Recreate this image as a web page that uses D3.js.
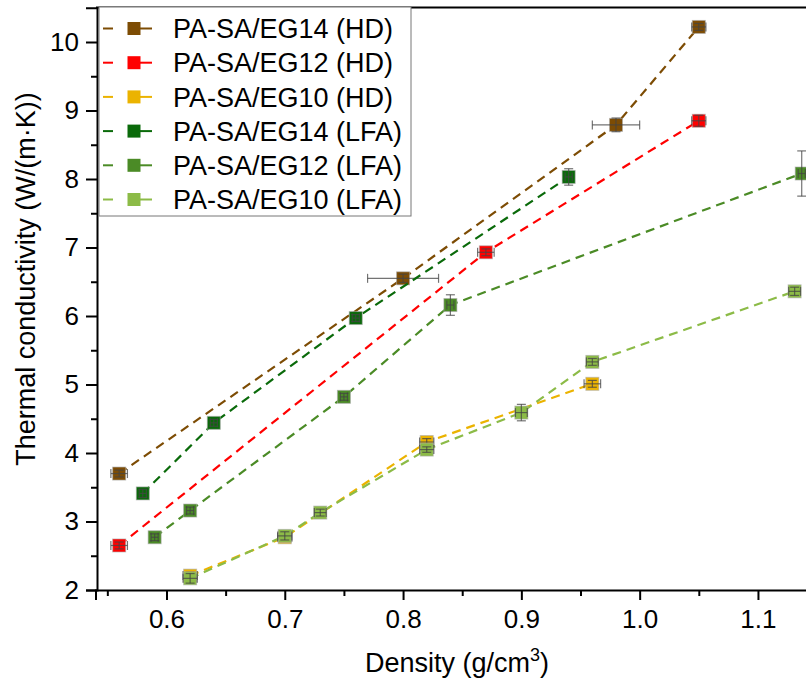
<!DOCTYPE html>
<html>
<head>
<meta charset="utf-8">
<script src="https://cdn.jsdelivr.net/npm/d3@7"></script>
<style>
  body { margin: 0; background: #fff; }
  svg { display: block; font-family: "Liberation Sans", Arial, sans-serif; }
</style>
</head>
<body>
<svg></svg>
<script>
// Dados (densidade g/cm3, condutividade W/(m·K))
const seriesNames = ["PA-SA/EG14 (HD)", "PA-SA/EG12 (HD)", "PA-SA/EG10 (HD)",
                     "PA-SA/EG14 (LFA)", "PA-SA/EG12 (LFA)", "PA-SA/EG10 (LFA)"];
const seriesColors = ["#7d4c04", "#ff0000", "#ebb300", "#0a6a0a", "#4b8b26", "#8cbb47"];

const eg14hdX = [0.56, 0.80, 0.98, 1.05];
const eg14hdY = [3.70, 6.55, 8.79, 10.22];
const eg14hdXErr = [0.007, 0.03, 0.02, 0.006];
const eg14hdYErr = [0.05, 0.06, 0.10, 0.05];

const eg12hdX = [0.56, 0.87, 1.05];
const eg12hdY = [2.65, 6.93, 8.85];
const eg12hdXErr = [0.007, 0.007, 0.006];
const eg12hdYErr = [0.05, 0.05, 0.08];

const eg10hdX = [0.62, 0.70, 0.82, 0.96];
const eg10hdY = [2.21, 2.77, 4.16, 5.01];
const eg10hdXErr = [0.006, 0.006, 0.006, 0.007];
const eg10hdYErr = [0.05, 0.05, 0.05, 0.05];

const eg14lfaX = [0.58, 0.64, 0.76, 0.94];
const eg14lfaY = [3.41, 4.44, 5.97, 8.03];
const eg14lfaXErr = [0.003, 0.003, 0.003, 0.003];
const eg14lfaYErr = [0.06, 0.05, 0.05, 0.12];

const eg12lfaX = [0.59, 0.62, 0.75, 0.84, 1.137];
const eg12lfaY = [2.77, 3.16, 4.82, 6.16, 8.08];
const eg12lfaXErr = [0.003, 0.003, 0.003, 0.003, 0.003];
const eg12lfaYErr = [0.05, 0.05, 0.05, 0.15, 0.33];

const eg10lfaX = [0.62, 0.70, 0.73, 0.82, 0.90, 0.96, 1.131];
const eg10lfaY = [2.17, 2.79, 3.13, 4.05, 4.59, 5.33, 6.36];
const eg10lfaXErr = [0.006, 0.006, 0.005, 0.006, 0.005, 0.005, 0.005];
const eg10lfaYErr = [0.07, 0.06, 0.05, 0.04, 0.12, 0.05, 0.06];

const xTicks = [0.6, 0.7, 0.8, 0.9, 1.0, 1.1];
const yTicks = [2, 3, 4, 5, 6, 7, 8, 9, 10];

const allX = [eg14hdX, eg12hdX, eg10hdX, eg14lfaX, eg12lfaX, eg10lfaX];
const allY = [eg14hdY, eg12hdY, eg10hdY, eg14lfaY, eg12lfaY, eg10lfaY];
const allXErr = [eg14hdXErr, eg12hdXErr, eg10hdXErr, eg14lfaXErr, eg12lfaXErr, eg10lfaXErr];
const allYErr = [eg14hdYErr, eg12hdYErr, eg10hdYErr, eg14lfaYErr, eg12lfaYErr, eg10lfaYErr];

const width = 806, height = 681;
const svg = d3.select("svg").attr("width", width).attr("height", height);

// Escalas
const x = d3.scaleLinear().domain([0.54, 1.15]).range([95.5, 817.1]);
const y = d3.scaleLinear().domain([2, 10.5]).range([590, 7.75]);

// Montar séries
const series = seriesNames.map((name, i) => ({
  name,
  color: seriesColors[i],
  points: allX[i].map((v, j) => ({ x: v, y: allY[i][j], ex: allXErr[i][j], ey: allYErr[i][j] }))
}));

const plot = svg.append("g");

// Linhas tracejadas
const line = d3.line().x(d => x(d.x)).y(d => y(d.y));

series.forEach(s => {
  const g = plot.append("g");
  g.append("path")
    .datum(s.points)
    .attr("fill", "none")
    .attr("stroke", s.color)
    .attr("stroke-width", 2.2)
    .attr("stroke-dasharray", "9,6")
    .attr("d", line);

  const pt = g.selectAll("g.pt").data(s.points).enter().append("g").attr("class", "pt");

  pt.append("rect")
    .attr("x", d => x(d.x) - 6.5)
    .attr("y", d => y(d.y) - 6.5)
    .attr("width", 13)
    .attr("height", 13)
    .attr("fill", s.color)
    .attr("stroke", "#aaa")
    .attr("stroke-opacity", 0.6)
    .attr("stroke-width", 1);

  // Barras de erro
  const eb = pt.append("g").attr("stroke", "#444").attr("stroke-opacity", 0.75).attr("stroke-width", 1.2);
  eb.append("line")
    .attr("x1", d => x(d.x - d.ex)).attr("x2", d => x(d.x + d.ex))
    .attr("y1", d => y(d.y)).attr("y2", d => y(d.y));
  eb.append("line")
    .attr("x1", d => x(d.x - d.ex)).attr("x2", d => x(d.x - d.ex))
    .attr("y1", d => y(d.y) - 4.5).attr("y2", d => y(d.y) + 4.5);
  eb.append("line")
    .attr("x1", d => x(d.x + d.ex)).attr("x2", d => x(d.x + d.ex))
    .attr("y1", d => y(d.y) - 4.5).attr("y2", d => y(d.y) + 4.5);
  eb.append("line")
    .attr("x1", d => x(d.x)).attr("x2", d => x(d.x))
    .attr("y1", d => y(d.y - d.ey)).attr("y2", d => y(d.y + d.ey));
  eb.append("line")
    .attr("x1", d => x(d.x) - 4.5).attr("x2", d => x(d.x) + 4.5)
    .attr("y1", d => y(d.y - d.ey)).attr("y2", d => y(d.y - d.ey));
  eb.append("line")
    .attr("x1", d => x(d.x) - 4.5).attr("x2", d => x(d.x) + 4.5)
    .attr("y1", d => y(d.y + d.ey)).attr("y2", d => y(d.y + d.ey));
});

// Eixos
const xMinor = d3.range(0.55, 1.16, 0.1).map(v => +v.toFixed(2));
const yMinor = d3.range(2.5, 10.5, 1);

svg.append("g").attr("transform", "translate(0,590)")
  .call(d3.axisBottom(x).tickValues(xTicks).tickFormat(d3.format(".1f")).tickSize(10).tickPadding(10));
svg.append("g").attr("transform", "translate(0,590)")
  .call(d3.axisBottom(x).tickValues(xMinor).tickFormat("").tickSize(6))
  .call(g => g.select(".domain").remove());

svg.append("g").attr("transform", "translate(97,0)")
  .call(d3.axisLeft(y).tickValues(yTicks).tickFormat(d3.format("d")).tickSize(11).tickPadding(7));
svg.append("g").attr("transform", "translate(97,0)")
  .call(d3.axisLeft(y).tickValues(yMinor).tickFormat("").tickSize(6))
  .call(g => g.select(".domain").remove());

svg.selectAll(".domain").attr("stroke", "#000").attr("stroke-width", 2);
svg.selectAll(".tick line").attr("stroke", "#000").attr("stroke-width", 2);
svg.selectAll(".tick text").attr("fill", "#000").style("font-size", "26px")
  .style("font-family", "'Liberation Sans', Arial, sans-serif");

// Eixo superior
svg.append("line").attr("x1", 96).attr("x2", width).attr("y1", 7.5).attr("y2", 7.5)
  .attr("stroke", "#000").attr("stroke-width", 2);

// Títulos dos eixos
const xt = svg.append("text")
  .attr("x", 457).attr("y", 672)
  .attr("text-anchor", "middle")
  .style("font-size", "27px")
  .text("Density (g/cm");
xt.append("tspan").attr("dy", -11).style("font-size", "18px").text("3");
xt.append("tspan").attr("dy", 11).text(")");

svg.append("text")
  .attr("transform", "translate(35,279) rotate(-90)")
  .attr("text-anchor", "middle")
  .style("font-size", "27px")
  .text("Thermal conductivity (W/(m·K))");

// Legenda
const legend = svg.append("g");
legend.append("rect")
  .attr("x", 99).attr("y", 7).attr("width", 312).attr("height", 209)
  .attr("fill", "#fff").attr("stroke", "#777").attr("stroke-width", 1);

const rowY = i => 28.5 + i * 34.2;
const item = legend.selectAll("g.item").data(series).enter().append("g").attr("class", "item")
  .attr("transform", (d, i) => `translate(0,${rowY(i)})`);
item.append("line").attr("x1", 103).attr("x2", 113).attr("y1", 0).attr("y2", 0)
  .attr("stroke", d => d.color).attr("stroke-width", 2);
item.append("line").attr("x1", 140).attr("x2", 152).attr("y1", 0).attr("y2", 0)
  .attr("stroke", d => d.color).attr("stroke-width", 2);
item.append("rect").attr("x", 127.5).attr("y", -6.5).attr("width", 13).attr("height", 13)
  .attr("fill", d => d.color);
item.append("text").attr("x", 173).attr("y", 0).attr("dy", "0.36em")
  .style("font-size", "27px")
  .text(d => d.name);
</script>
</body>
</html>
